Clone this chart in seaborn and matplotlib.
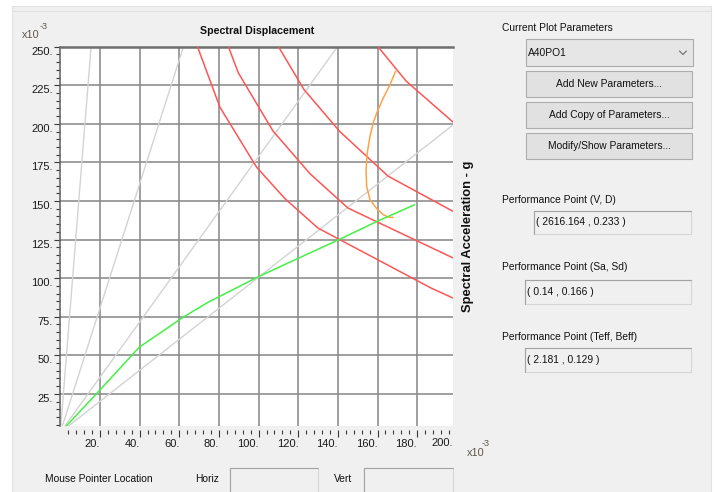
import numpy as np
import pandas as pd
import matplotlib
matplotlib.use("Agg")
import matplotlib.pyplot as plt
from matplotlib import font_manager
from matplotlib.patches import Rectangle
from matplotlib.lines import Line2D
import seaborn as sns

# ---------------- data (both axes in units of 1e-3: Sd in m, Sa in g) ----------------
# constant-period reference lines (s)
periods = [0.5, 1.0, 1.5, 2.0]

# capacity spectrum
capacity_sd = [0.0, 19.2, 39.8, 62.0, 74.6, 100.0, 140.4, 159.6, 178.7]
capacity_sa = [0.0, 26.4, 55.2, 74.7, 84.4, 101.0, 124.9, 136.7, 147.6]

# demand spectra, one per damping level
demand1_sd = [69.1, 80.5, 99.0, 113.3, 130.0, 187.1, 198.2]
demand1_sa = [250.3, 210.8, 171.9, 151.5, 132.4, 93.5, 87.0]
demand2_sd = [84.7, 89.8, 107.3, 125.9, 145.1, 198.2]
demand2_sa = [250.3, 233.0, 195.3, 167.7, 145.4, 113.0]
demand3_sd = [109.9, 122.9, 140.9, 165.3, 198.2]
demand3_sa = [250.3, 222.2, 195.1, 166.1, 143.2]
demand4_sd = [160.0, 174.5, 198.2]
demand4_sa = [250.3, 227.6, 201.0]

# demand spectrum with variable (effective) damping
adrs_sd = [169.1, 166.3, 162.9, 159.6, 157.8, 156.2, 154.8, 154.2, 154.5, 156.2, 159.6, 162.9, 165.4, 167.9]
adrs_sa = [234.1, 225.4, 216.8, 207.1, 200.6, 191.9, 181.1, 170.3, 159.4, 150.8, 145.0, 141.1, 139.6, 139.3]

x_ticks = [20, 40, 60, 80, 100, 120, 140, 160, 180]
x_last_label = 200
y_ticks = [25, 50, 75, 100, 125, 150, 175, 200, 225, 250]

plot_name = "A40PO1"
perf_vd = "( 2616.164 , 0.233 )"
perf_sasd = "( 0.14 , 0.166 )"
perf_tb = "( 2.181 , 0.129 )"

G = 9.81
X_MAX, Y_MIN, Y_MAX = 198.2, 4.35, 250.0

# ---------------- styling ----------------
sns.set_theme(style="white")
_available = {f.name for f in font_manager.fontManager.ttflist}
if "Liberation Sans Narrow" in _available:
    UI, UI_SIZE, TICK_SIZE, TITLE_SIZE = "Liberation Sans Narrow", 9.0, 9.2, 9.4
else:
    UI, UI_SIZE, TICK_SIZE, TITLE_SIZE = "Liberation Sans", 7.4, 8.0, 7.7
plt.rcParams["font.family"] = [UI, "DejaVu Sans"]

W, H = 723, 492
fig = plt.figure(figsize=(W / 100, H / 100), dpi=100, facecolor="white")


def fx(x):
    return x / W


def fy(y):
    return 1 - y / H


def rect(x0, y0, x1, y1, fc="none", ec="none", lw=0.8, z=-5):
    r = Rectangle((fx(x0), fy(y1)), (x1 - x0) / W, (y1 - y0) / H,
                  transform=fig.transFigure, facecolor=fc, edgecolor=ec, lw=lw, zorder=z)
    fig.add_artist(r)


def hline(x0, x1, y, c, lw=0.8, z=-4):
    fig.add_artist(Line2D([fx(x0), fx(x1)], [fy(y), fy(y)], transform=fig.transFigure,
                          color=c, lw=lw, zorder=z))


def vline(x, y0, y1, c, lw=0.8, z=-4):
    fig.add_artist(Line2D([fx(x), fx(x)], [fy(y0), fy(y1)], transform=fig.transFigure,
                          color=c, lw=lw, zorder=z))


def txt(x, y, s, size=None, ha="left", **kw):
    fig.text(fx(x), fy(y), s, family=[UI, "DejaVu Sans"], size=size or UI_SIZE, ha=ha,
             va="center", color=kw.pop("color", "#111111"), **kw)


def sunken_box(x0, y0, x1, y1):
    rect(x0, y0, x1, y1, fc="#f0f0f0", ec="#d6d6d6")
    hline(x0, x1, y0, "#a3a3a3")
    vline(x0, y0, y1, "#a3a3a3")


# dialog panel
rect(12, 6, 711, 493, fc="#f0f0f0", ec="#e2e2e2", z=-10)
hline(12, 711, 11, "#e0e0e0")

# ---------------- chart ----------------
ax = fig.add_axes([fx(60.3), fy(425.7), (453.3 - 60.3) / W, (425.7 - 46.7) / H])
ax.set_facecolor("white")

for T in periods:
    slope = 4 * np.pi ** 2 / (G * T ** 2)
    sns.lineplot(x=[0.0, X_MAX], y=[0.0, slope * X_MAX], color="#d3d3d3", lw=1.0,
                 sort=False, estimator=None, ax=ax, zorder=2)

for sd, sa in [(demand1_sd, demand1_sa), (demand2_sd, demand2_sa),
               (demand3_sd, demand3_sa), (demand4_sd, demand4_sa)]:
    sns.lineplot(x=sd, y=sa, color="#ff5555", lw=1.1, sort=False, estimator=None, ax=ax, zorder=3)

sns.lineplot(x=adrs_sd, y=adrs_sa, color="#ffa245", lw=1.1, sort=False, estimator=None, ax=ax, zorder=4)
sns.lineplot(x=capacity_sd, y=capacity_sa, color="#45f045", lw=1.1, sort=False, estimator=None, ax=ax, zorder=4)

ax.set_xlim(0, X_MAX)
ax.set_ylim(Y_MIN, Y_MAX)
ax.set_xlabel("")
ax.set_ylabel("")

ax.set_xticks(x_ticks)
ax.set_xticklabels([f"{v}." for v in x_ticks])
ax.set_xticks(np.arange(4, X_MAX, 4), minor=True)
ax.set_yticks(y_ticks)
ax.set_yticklabels([f"{v}." for v in y_ticks])
ax.set_yticks(np.arange(5, Y_MAX, 5), minor=True)

ax.grid(True, which="major", color="#8a8a8a", lw=1.15)
ax.set_axisbelow(True)

for s in ["right", "bottom"]:
    ax.spines[s].set_visible(False)
ax.spines["bottom"].set_position(("outward", 3))
ax.spines["top"].set_color("#6e6e6e")
ax.spines["top"].set_linewidth(1.8)
ax.spines["left"].set_color("#5e5e5e")
ax.spines["left"].set_linewidth(1.1)

ax.tick_params(axis="x", which="major", direction="out", length=5.0, width=0.8,
               color="#3a3a3a", pad=1.8, labelsize=TICK_SIZE, labelcolor="#1a1a1a", bottom=True)
ax.tick_params(axis="x", which="minor", direction="out", length=2.6, width=0.8,
               color="#3a3a3a", bottom=True)
ax.tick_params(axis="y", which="major", direction="out", length=4.1, width=0.8,
               color="#3a3a3a", pad=1.2, labelsize=TICK_SIZE, labelcolor="#1a1a1a", left=True)
ax.tick_params(axis="y", which="minor", direction="out", length=2.9, width=0.8,
               color="#3a3a3a", left=True)
plt.setp(ax.get_xticklabels(), ha="right")
plt.setp(ax.get_yticklabels(), va="top")

# the last displacement label sits just past the plotted range
ax.annotate(f"{x_last_label}.", xy=(x_last_label, 0), xycoords=("data", "axes fraction"),
            xytext=(-2.9, -8.9), textcoords="offset points", ha="right", va="top",
            size=TICK_SIZE, color="#1a1a1a", annotation_clip=False)

# titles and scale multipliers
fig.text(fx(257), fy(30.7), "Spectral Displacement", family=[UI, "DejaVu Sans"],
         weight="bold", size=TITLE_SIZE, ha="center", va="center", color="#111111")
fig.text(fx(468), fy(236), "Spectral Acceleration - g", family=["Liberation Sans", "DejaVu Sans"],
         weight="bold", size=9.4, rotation=90, ha="center", va="center", color="#111111")
txt(21.5, 35, "x10", size=UI_SIZE + 0.4, color="#5f574c")
txt(39.5, 26.5, "-3", size=UI_SIZE - 0.8, color="#5f574c")
txt(466.5, 452.5, "x10", size=UI_SIZE + 0.4, color="#5f574c")
txt(482, 443.5, "-3", size=UI_SIZE - 0.8, color="#5f574c")

# mouse pointer readout
txt(45, 479.3, "Mouse Pointer Location")
txt(195, 479.3, "Horiz")
sunken_box(230, 468.3, 318.3, 494)
txt(334, 479.3, "Vert")
sunken_box(364.3, 468.3, 453.3, 494)

# ---------------- parameter panel ----------------
txt(501.7, 28.3, "Current Plot Parameters")
rect(525.7, 39.3, 693.3, 65.7, fc="#e6e6e6", ec="#acacac")
txt(528.3, 52.7, plot_name)
fig.add_artist(Line2D([fx(679.5), fx(683), fx(686.5)], [fy(51), fy(54.5), fy(51)],
                      transform=fig.transFigure, color="#6a6a6a", lw=0.8))

for (y0, y1), label in zip([(71, 96.7), (102.3, 127.7), (133.3, 158.7)],
                           ["Add New Parameters...", "Add Copy of Parameters...",
                            "Modify/Show Parameters..."]):
    rect(525.7, y0, 692.3, y1, fc="#e1e1e1", ec="#adadad")
    txt(609, (y0 + y1) / 2, label, ha="center")

txt(501.7, 200, "Performance Point (V, D)")
sunken_box(534, 210.7, 690.7, 234)
txt(536, 222.4, perf_vd)

txt(501.7, 266.7, "Performance Point (Sa, Sd)")
sunken_box(525, 280, 690.7, 304)
txt(527, 291.8, perf_sasd)

txt(501.7, 336.7, "Performance Point (Teff, Beff)")
sunken_box(525, 348.3, 690.7, 371.7)
txt(527, 360, perf_tb)

fig.savefig("out.png", dpi=100, facecolor=fig.get_facecolor())
